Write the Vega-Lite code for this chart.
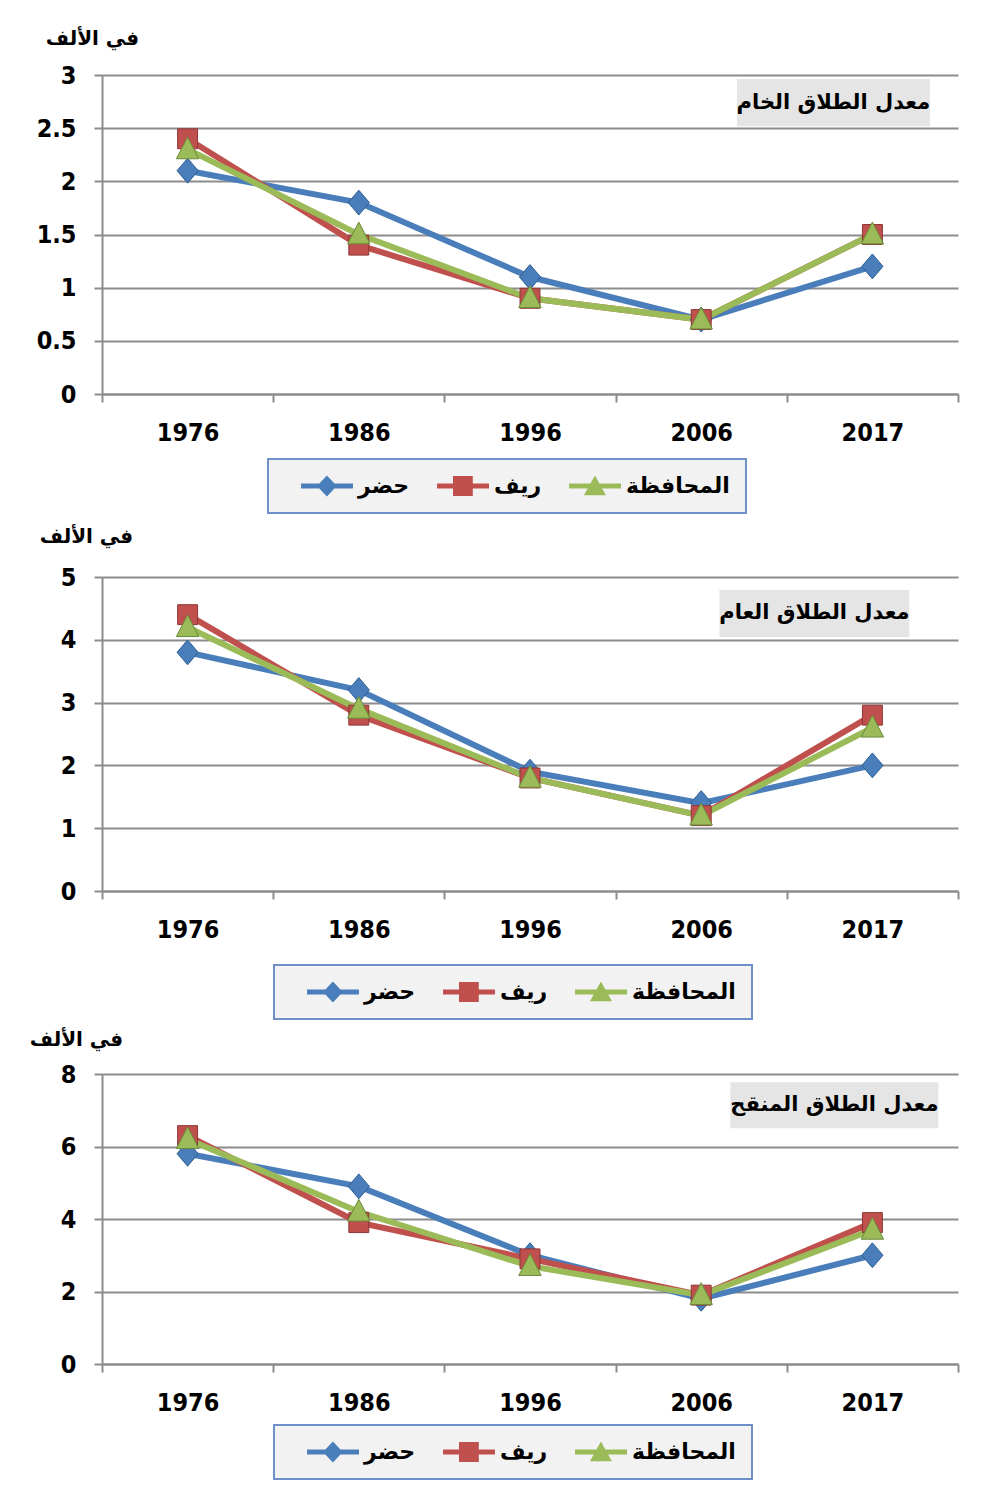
{
  "$schema": "https://vega.github.io/schema/vega-lite/v6.json",
  "background": "white",
  "padding": {"left": 29, "top": 28, "right": 10, "bottom": 10},
  "bounds": "flush",
  "spacing": 183,
  "config": {
    "font": "DejaVu Sans",
    "view": {"stroke": null},
    "axis": {
      "labelFont": "DejaVu Sans Condensed, DejaVu Sans",
      "labelFontWeight": "bold",
      "labelFontSize": 25,
      "labelColor": "#000000",
      "domainColor": "#8c8c8c",
      "domainWidth": 2,
      "tickColor": "#8c8c8c",
      "tickWidth": 2,
      "tickSize": 8,
      "gridColor": "#8c8c8c",
      "gridWidth": 2
    },
    "legend": {
      "orient": "none",
      "direction": "horizontal",
      "fillColor": "#f2f2f2",
      "strokeColor": "#6f90c8",
      "strokeWidth": 2,
      "padding": 16,
      "symbolSize": 484,
      "symbolOpacity": 1,
      "symbolStrokeWidth": 0,
      "labelOffset": 52,
      "columnPadding": 10,
      "labelFont": "DejaVu Sans",
      "labelFontWeight": "bold",
      "labelFontSize": 22,
      "labelColor": "#000000",
      "title": null
    }
  },
  "resolve": {
    "scale": {"color": "independent", "shape": "independent", "y": "independent", "x": "independent"},
    "legend": {"color": "independent", "shape": "independent"}
  },
  "datasets": {
    "crude": [
      {"year": "1976", "series": "حضر", "value": 2.1},
      {"year": "1986", "series": "حضر", "value": 1.8},
      {"year": "1996", "series": "حضر", "value": 1.1},
      {"year": "2006", "series": "حضر", "value": 0.7},
      {"year": "2017", "series": "حضر", "value": 1.2},
      {"year": "1976", "series": "ريف", "value": 2.4},
      {"year": "1986", "series": "ريف", "value": 1.4},
      {"year": "1996", "series": "ريف", "value": 0.9},
      {"year": "2006", "series": "ريف", "value": 0.7},
      {"year": "2017", "series": "ريف", "value": 1.5},
      {"year": "1976", "series": "المحافظة", "value": 2.3},
      {"year": "1986", "series": "المحافظة", "value": 1.5},
      {"year": "1996", "series": "المحافظة", "value": 0.9},
      {"year": "2006", "series": "المحافظة", "value": 0.7},
      {"year": "2017", "series": "المحافظة", "value": 1.5}
    ],
    "general": [
      {"year": "1976", "series": "حضر", "value": 3.8},
      {"year": "1986", "series": "حضر", "value": 3.2},
      {"year": "1996", "series": "حضر", "value": 1.9},
      {"year": "2006", "series": "حضر", "value": 1.4},
      {"year": "2017", "series": "حضر", "value": 2.0},
      {"year": "1976", "series": "ريف", "value": 4.4},
      {"year": "1986", "series": "ريف", "value": 2.8},
      {"year": "1996", "series": "ريف", "value": 1.8},
      {"year": "2006", "series": "ريف", "value": 1.2},
      {"year": "2017", "series": "ريف", "value": 2.8},
      {"year": "1976", "series": "المحافظة", "value": 4.2},
      {"year": "1986", "series": "المحافظة", "value": 2.9},
      {"year": "1996", "series": "المحافظة", "value": 1.8},
      {"year": "2006", "series": "المحافظة", "value": 1.2},
      {"year": "2017", "series": "المحافظة", "value": 2.6}
    ],
    "refined": [
      {"year": "1976", "series": "حضر", "value": 5.8},
      {"year": "1986", "series": "حضر", "value": 4.9},
      {"year": "1996", "series": "حضر", "value": 3.0},
      {"year": "2006", "series": "حضر", "value": 1.8},
      {"year": "2017", "series": "حضر", "value": 3.0},
      {"year": "1976", "series": "ريف", "value": 6.3},
      {"year": "1986", "series": "ريف", "value": 3.9},
      {"year": "1996", "series": "ريف", "value": 2.9},
      {"year": "2006", "series": "ريف", "value": 1.9},
      {"year": "2017", "series": "ريف", "value": 3.9},
      {"year": "1976", "series": "المحافظة", "value": 6.2},
      {"year": "1986", "series": "المحافظة", "value": 4.2},
      {"year": "1996", "series": "المحافظة", "value": 2.7},
      {"year": "2006", "series": "المحافظة", "value": 1.9},
      {"year": "2017", "series": "المحافظة", "value": 3.7}
    ]
  },
  "vconcat": [
    {
      "width": 856,
      "height": 319,
      "data": {"name": "crude"},
      "layer": [
        {
          "data": {"values": [{"label": "معدل الطلاق الخام", "year": "2017", "v": 2.74}]},
          "mark": {"type": "point", "filled": true, "opacity": 1, "color": "#e5e5e5", "shape": "M-1,-0.245H1V0.245H-1Z", "size": 37249, "xOffset": -39},
          "encoding": {
            "x": {"field": "year", "type": "ordinal", "scale": {"type": "band", "domain": ["1976", "1986", "1996", "2006", "2017"], "paddingInner": 0, "paddingOuter": 0}},
            "y": {"field": "v", "type": "quantitative", "scale": {"domain": [0, 3]}}
          }
        },
        {
          "data": {"values": [{"label": "معدل الطلاق الخام", "year": "2017", "v": 2.74}]},
          "mark": {"type": "text", "font": "DejaVu Sans", "fontWeight": "bold", "fontSize": 21, "color": "#000000", "xOffset": -39},
          "encoding": {
            "x": {"field": "year", "type": "ordinal"},
            "y": {"field": "v", "type": "quantitative"},
            "text": {"field": "label"}
          }
        },
        {
          "mark": {"type": "point", "filled": true, "opacity": 0},
          "encoding": {
            "x": {"field": "year", "type": "ordinal"},
            "y": {"field": "value", "type": "quantitative"},
            "color": {"field": "series", "type": "nominal", "scale": {"domain": ["حضر", "ريف", "المحافظة"], "range": ["#4a7ebb", "#c0504d", "#9bbb59"]}, "legend": {"legendX": 166, "legendY": 384}},
            "shape": {"field": "series", "type": "nominal", "scale": {"domain": ["حضر", "ريف", "المحافظة"], "range": ["M0.55,-0.23H5.27V0.23H0.55Z M2.9,-0.95L3.8,0L2.9,0.95L2,0Z", "M0.55,-0.23H5.27V0.23H0.55Z M2,-0.9H3.8V0.9H2Z", "M0.55,-0.23H5.27V0.23H0.55Z M2.9,-0.95L3.9,0.85H1.9Z"]}, "legend": {"legendX": 166, "legendY": 384}}
          }
        },
        {
          "mark": {"type": "line", "strokeWidth": 6},
          "encoding": {
            "x": {"field": "year", "type": "ordinal", "axis": {"title": null, "labelAngle": 0, "labelAlign": "center", "labelPadding": 30, "tickBand": "extent", "grid": false}},
            "y": {"field": "value", "type": "quantitative", "axis": {"values": [0, 0.5, 1, 1.5, 2, 2.5, 3], "format": "~g", "labelPadding": 18, "grid": true, "title": "في الألف", "titleAngle": 0, "titleX": -10, "titleY": -37, "titleAlign": "center", "titleBaseline": "middle", "titleFont": "DejaVu Sans", "titleFontWeight": "bold", "titleFontSize": 20, "titleColor": "#000000"}},
            "color": {"field": "series", "type": "nominal", "legend": null}
          }
        },
        {
          "transform": [{"filter": "datum.series === 'حضر'"}],
          "mark": {"type": "point", "filled": true, "opacity": 1, "size": 620, "shape": "M0,-1L0.85,0L0,1L-0.85,0Z", "color": "#4a7ebb", "stroke": "#2f5f96", "strokeWidth": 1},
          "encoding": {"x": {"field": "year", "type": "ordinal"}, "y": {"field": "value", "type": "quantitative"}}
        },
        {
          "transform": [{"filter": "datum.series === 'ريف'"}],
          "mark": {"type": "point", "filled": true, "opacity": 1, "size": 620, "shape": "M-0.8,-0.8H0.8V0.8H-0.8Z", "color": "#c0504d", "stroke": "#8e3533", "strokeWidth": 1},
          "encoding": {"x": {"field": "year", "type": "ordinal"}, "y": {"field": "value", "type": "quantitative"}}
        },
        {
          "transform": [{"filter": "datum.series === 'المحافظة'"}],
          "mark": {"type": "point", "filled": true, "opacity": 1, "size": 620, "shape": "M0,-1L0.9,0.75H-0.9Z", "color": "#9bbb59", "stroke": "#6b8a3a", "strokeWidth": 1},
          "encoding": {"x": {"field": "year", "type": "ordinal"}, "y": {"field": "value", "type": "quantitative"}}
        }
      ]
    },
    {
      "width": 856,
      "height": 314,
      "data": {"name": "general"},
      "layer": [
        {
          "data": {"values": [{"label": "معدل الطلاق العام", "year": "2017", "v": 4.42}]},
          "mark": {"type": "point", "filled": true, "opacity": 1, "color": "#e5e5e5", "shape": "M-1,-0.247H1V0.247H-1Z", "size": 36100, "xOffset": -58},
          "encoding": {
            "x": {"field": "year", "type": "ordinal", "scale": {"type": "band", "domain": ["1976", "1986", "1996", "2006", "2017"], "paddingInner": 0, "paddingOuter": 0}},
            "y": {"field": "v", "type": "quantitative", "scale": {"domain": [0, 5]}}
          }
        },
        {
          "data": {"values": [{"label": "معدل الطلاق العام", "year": "2017", "v": 4.42}]},
          "mark": {"type": "text", "font": "DejaVu Sans", "fontWeight": "bold", "fontSize": 21, "color": "#000000", "xOffset": -58},
          "encoding": {
            "x": {"field": "year", "type": "ordinal"},
            "y": {"field": "v", "type": "quantitative"},
            "text": {"field": "label"}
          }
        },
        {
          "mark": {"type": "point", "filled": true, "opacity": 0},
          "encoding": {
            "x": {"field": "year", "type": "ordinal"},
            "y": {"field": "value", "type": "quantitative"},
            "color": {"field": "series", "type": "nominal", "scale": {"domain": ["حضر", "ريف", "المحافظة"], "range": ["#4a7ebb", "#c0504d", "#9bbb59"]}, "legend": {"legendX": 172, "legendY": 388}},
            "shape": {"field": "series", "type": "nominal", "scale": {"domain": ["حضر", "ريف", "المحافظة"], "range": ["M0.55,-0.23H5.27V0.23H0.55Z M2.9,-0.95L3.8,0L2.9,0.95L2,0Z", "M0.55,-0.23H5.27V0.23H0.55Z M2,-0.9H3.8V0.9H2Z", "M0.55,-0.23H5.27V0.23H0.55Z M2.9,-0.95L3.9,0.85H1.9Z"]}, "legend": {"legendX": 172, "legendY": 388}}
          }
        },
        {
          "mark": {"type": "line", "strokeWidth": 6},
          "encoding": {
            "x": {"field": "year", "type": "ordinal", "axis": {"title": null, "labelAngle": 0, "labelAlign": "center", "labelPadding": 30, "tickBand": "extent", "grid": false}},
            "y": {"field": "value", "type": "quantitative", "axis": {"values": [0, 1, 2, 3, 4, 5], "format": "~g", "labelPadding": 18, "grid": true, "title": "في الألف", "titleAngle": 0, "titleX": -16, "titleY": -41, "titleAlign": "center", "titleBaseline": "middle", "titleFont": "DejaVu Sans", "titleFontWeight": "bold", "titleFontSize": 20, "titleColor": "#000000"}},
            "color": {"field": "series", "type": "nominal", "legend": null}
          }
        },
        {
          "transform": [{"filter": "datum.series === 'حضر'"}],
          "mark": {"type": "point", "filled": true, "opacity": 1, "size": 620, "shape": "M0,-1L0.85,0L0,1L-0.85,0Z", "color": "#4a7ebb", "stroke": "#2f5f96", "strokeWidth": 1},
          "encoding": {"x": {"field": "year", "type": "ordinal"}, "y": {"field": "value", "type": "quantitative"}}
        },
        {
          "transform": [{"filter": "datum.series === 'ريف'"}],
          "mark": {"type": "point", "filled": true, "opacity": 1, "size": 620, "shape": "M-0.8,-0.8H0.8V0.8H-0.8Z", "color": "#c0504d", "stroke": "#8e3533", "strokeWidth": 1},
          "encoding": {"x": {"field": "year", "type": "ordinal"}, "y": {"field": "value", "type": "quantitative"}}
        },
        {
          "transform": [{"filter": "datum.series === 'المحافظة'"}],
          "mark": {"type": "point", "filled": true, "opacity": 1, "size": 620, "shape": "M0,-1L0.9,0.75H-0.9Z", "color": "#9bbb59", "stroke": "#6b8a3a", "strokeWidth": 1},
          "encoding": {"x": {"field": "year", "type": "ordinal"}, "y": {"field": "value", "type": "quantitative"}}
        }
      ]
    },
    {
      "width": 856,
      "height": 290,
      "data": {"name": "refined"},
      "layer": [
        {
          "data": {"values": [{"label": "معدل الطلاق المنقح", "year": "2017", "v": 7.14}]},
          "mark": {"type": "point", "filled": true, "opacity": 1, "color": "#e5e5e5", "shape": "M-1,-0.221H1V0.221H-1Z", "size": 43264, "xOffset": -38},
          "encoding": {
            "x": {"field": "year", "type": "ordinal", "scale": {"type": "band", "domain": ["1976", "1986", "1996", "2006", "2017"], "paddingInner": 0, "paddingOuter": 0}},
            "y": {"field": "v", "type": "quantitative", "scale": {"domain": [0, 8]}}
          }
        },
        {
          "data": {"values": [{"label": "معدل الطلاق المنقح", "year": "2017", "v": 7.14}]},
          "mark": {"type": "text", "font": "DejaVu Sans", "fontWeight": "bold", "fontSize": 21, "color": "#000000", "xOffset": -38},
          "encoding": {
            "x": {"field": "year", "type": "ordinal"},
            "y": {"field": "v", "type": "quantitative"},
            "text": {"field": "label"}
          }
        },
        {
          "mark": {"type": "point", "filled": true, "opacity": 0},
          "encoding": {
            "x": {"field": "year", "type": "ordinal"},
            "y": {"field": "value", "type": "quantitative"},
            "color": {"field": "series", "type": "nominal", "scale": {"domain": ["حضر", "ريف", "المحافظة"], "range": ["#4a7ebb", "#c0504d", "#9bbb59"]}, "legend": {"legendX": 172, "legendY": 351}},
            "shape": {"field": "series", "type": "nominal", "scale": {"domain": ["حضر", "ريف", "المحافظة"], "range": ["M0.55,-0.23H5.27V0.23H0.55Z M2.9,-0.95L3.8,0L2.9,0.95L2,0Z", "M0.55,-0.23H5.27V0.23H0.55Z M2,-0.9H3.8V0.9H2Z", "M0.55,-0.23H5.27V0.23H0.55Z M2.9,-0.95L3.9,0.85H1.9Z"]}, "legend": {"legendX": 172, "legendY": 351}}
          }
        },
        {
          "mark": {"type": "line", "strokeWidth": 6},
          "encoding": {
            "x": {"field": "year", "type": "ordinal", "axis": {"title": null, "labelAngle": 0, "labelAlign": "center", "labelPadding": 30, "tickBand": "extent", "grid": false}},
            "y": {"field": "value", "type": "quantitative", "axis": {"values": [0, 2, 4, 6, 8], "format": "~g", "labelPadding": 18, "grid": true, "title": "في الألف", "titleAngle": 0, "titleX": -26, "titleY": -35, "titleAlign": "center", "titleBaseline": "middle", "titleFont": "DejaVu Sans", "titleFontWeight": "bold", "titleFontSize": 20, "titleColor": "#000000"}},
            "color": {"field": "series", "type": "nominal", "legend": null}
          }
        },
        {
          "transform": [{"filter": "datum.series === 'حضر'"}],
          "mark": {"type": "point", "filled": true, "opacity": 1, "size": 620, "shape": "M0,-1L0.85,0L0,1L-0.85,0Z", "color": "#4a7ebb", "stroke": "#2f5f96", "strokeWidth": 1},
          "encoding": {"x": {"field": "year", "type": "ordinal"}, "y": {"field": "value", "type": "quantitative"}}
        },
        {
          "transform": [{"filter": "datum.series === 'ريف'"}],
          "mark": {"type": "point", "filled": true, "opacity": 1, "size": 620, "shape": "M-0.8,-0.8H0.8V0.8H-0.8Z", "color": "#c0504d", "stroke": "#8e3533", "strokeWidth": 1},
          "encoding": {"x": {"field": "year", "type": "ordinal"}, "y": {"field": "value", "type": "quantitative"}}
        },
        {
          "transform": [{"filter": "datum.series === 'المحافظة'"}],
          "mark": {"type": "point", "filled": true, "opacity": 1, "size": 620, "shape": "M0,-1L0.9,0.75H-0.9Z", "color": "#9bbb59", "stroke": "#6b8a3a", "strokeWidth": 1},
          "encoding": {"x": {"field": "year", "type": "ordinal"}, "y": {"field": "value", "type": "quantitative"}}
        }
      ]
    }
  ]
}
